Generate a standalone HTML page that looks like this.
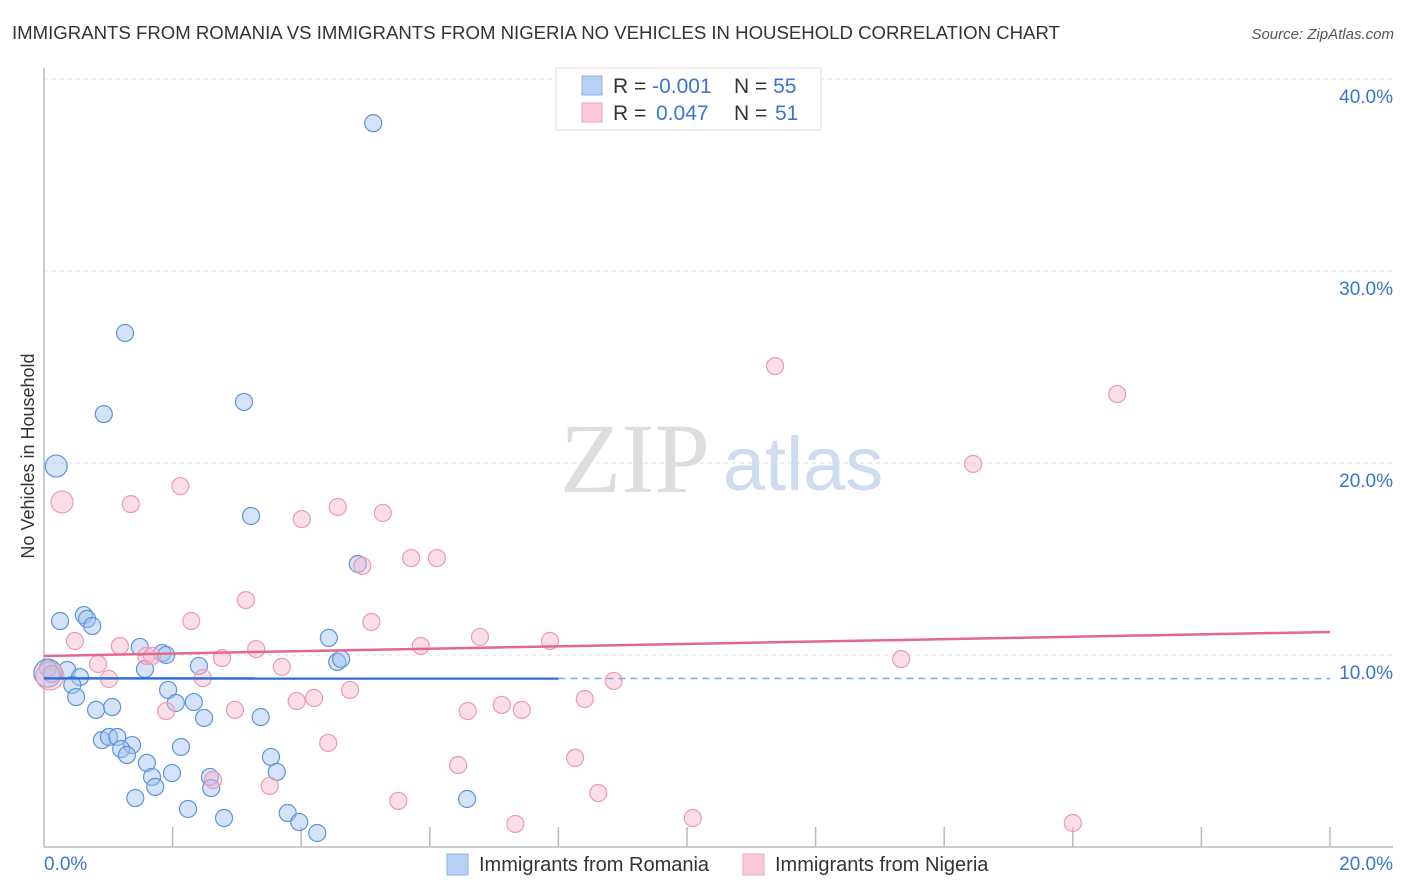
<!DOCTYPE html>
<html><head><meta charset="utf-8"><style>
body{margin:0;background:#fff;font-family:"Liberation Sans",sans-serif;}
#c{position:absolute;left:0;top:0;width:1406px;height:892px;}
</style></head><body>
<svg id="c" width="1406" height="892">
<text x="12" y="39" font-size="18.6" fill="#333">IMMIGRANTS FROM ROMANIA VS IMMIGRANTS FROM NIGERIA NO VEHICLES IN HOUSEHOLD CORRELATION CHART</text>
<text x="1394" y="39" font-size="15" fill="#555" font-style="italic" text-anchor="end">Source: ZipAtlas.com</text>
<text x="34" y="456" font-size="18" fill="#333" text-anchor="middle" transform="rotate(-90 34 456)">No Vehicles in Household</text>
<g><text x="635" y="492" font-size="100" fill="#ddd" font-family="Liberation Serif,serif" text-anchor="middle">ZIP</text><text x="803" y="490" font-size="76" fill="#cfdcef" text-anchor="middle">atlas</text></g>
<g id="grid"></g><g id="pts"></g><g id="trend"></g>
<g>
<rect x="556" y="68" width="265" height="62" fill="#fff" stroke="#ddd"/>
<rect x="582" y="76" width="20" height="19" fill="#b7d0f3" stroke="#8fb2e6"/>
<rect x="582" y="103" width="20" height="19" fill="#fbc9d8" stroke="#f0a6bd"/>
<text x="613" y="93" font-size="21" fill="#333">R = <tspan fill="#3b74d1">-0.001</tspan><tspan x="734">N = </tspan><tspan fill="#3b74d1">55</tspan></text>
<text x="613" y="120" font-size="21" fill="#333">R = <tspan x="656" fill="#3b74d1">0.047</tspan><tspan x="734">N = </tspan><tspan x="775" fill="#3b74d1">51</tspan></text>
</g>
<g>
<rect x="447" y="854" width="21" height="21" fill="#b7d0f3" stroke="#8fb2e6"/>
<text x="479" y="871" font-size="20" fill="#333">Immigrants from Romania</text>
<rect x="743" y="854" width="21" height="21" fill="#fbc9d8" stroke="#f0a6bd"/>
<text x="775" y="871" font-size="20" fill="#333">Immigrants from Nigeria</text>
</g>
</svg>
<script>
const yTicks=[10,20,30,40];
const yTickLabels=["10.0%","20.0%","30.0%","40.0%"];
const xTickLabels=["0.0%","20.0%"];
const romX=[5.12,1.26,0.93,3.11,0.19,3.22,4.88,0.62,0.25,0.67,0.75,1.49,1.84,1.90,4.43,4.56,4.62,2.41,1.57,0.06,0.12,0.36,0.56,0.44,0.50,1.93,2.05,2.33,0.81,1.06,2.49,3.37,0.90,1.01,1.14,1.37,1.20,1.29,2.13,1.60,1.68,1.99,2.58,1.73,2.60,3.53,3.62,1.42,2.24,2.80,3.79,3.97,4.25,6.58,0.06];
const romY=[37.7,26.77,22.55,23.18,19.84,17.24,14.74,12.08,11.77,11.88,11.51,10.42,10.10,10.0,10.89,9.64,9.79,9.43,9.27,9.32,9.01,9.22,8.85,8.44,7.81,8.18,7.5,7.55,7.14,7.29,6.72,6.77,5.57,5.73,5.73,5.31,5.10,4.79,5.21,4.38,3.65,3.85,3.65,3.13,3.07,4.69,3.91,2.55,1.98,1.51,1.77,1.30,0.73,2.50,9.06];
const romBig=[4,54];
const nigX=[11.37,16.69,14.45,0.28,1.35,2.12,4.01,4.57,5.27,4.95,5.71,6.11,3.14,2.29,5.09,0.48,1.18,1.59,3.30,6.78,7.87,5.86,0.84,1.01,3.70,2.77,2.47,13.33,4.76,3.93,4.20,1.90,2.97,6.59,7.12,7.43,8.41,8.86,4.42,6.44,8.26,2.63,3.51,5.51,8.62,7.33,10.09,16.0,0.09,1.68];
const nigY=[25.05,23.59,19.95,17.97,17.86,18.80,17.08,17.71,17.40,14.64,15.05,15.05,12.86,11.77,11.72,10.73,10.47,9.95,10.31,10.94,10.73,10.47,9.53,8.75,9.38,9.84,8.80,9.79,8.18,7.60,7.76,7.08,7.14,7.08,7.40,7.14,7.71,8.65,5.42,4.27,4.64,3.49,3.18,2.40,2.81,1.20,1.51,1.25,8.91,9.95];
const nigBig=[3,48];
const romTrend=[8.78,8.77];
const nigTrend=[9.95,11.2];
const X0=44,X1=1330,Yb=847,pxPerPct=19.2;
const sx=v=>X0+(X1-X0)*v/20, sy=v=>Yb-v*pxPerPct;
const NS="http://www.w3.org/2000/svg";
function mk(t,a,p){const e=document.createElementNS(NS,t);for(const k in a)e.setAttribute(k,a[k]);p.appendChild(e);return e;}
const g=document.getElementById('grid');
yTicks.forEach((v,i)=>{
 const l=mk('line',{x1:X0,x2:1393,y1:sy(v),y2:sy(v),stroke:'#ddd','stroke-dasharray':'4,4'},g);
 
 
 const t=mk('text',{x:1393,y:sy(v)+24,'font-size':19,fill:'#3b74d1','text-anchor':'end'},g);t.textContent=yTickLabels[i];
 
 
});
const ax=mk('line',{x1:X0,x2:X0,y1:68,y2:Yb,stroke:'#bbb','stroke-width':1.5},g);


const bx=mk('line',{x1:X0,x2:1393,y1:Yb,y2:Yb,stroke:'#bbb','stroke-width':1.5},g);


for(let i=1;i<=10;i++){const x=sx(i*2);const tk=mk('line',{x1:x,x2:x,y1:827,y2:Yb,stroke:'#bbb','stroke-width':1.5},g);
 
 }
[[0,'start',44],[20,'end',1393]].forEach((d,i)=>{const t=mk('text',{x:d[2],y:870,'font-size':19,fill:'#3b74d1','text-anchor':d[1]},g);t.textContent=xTickLabels[i];
 
 });
const p=document.getElementById('pts');
function series(xs,ys,big,fill,stroke,name){xs.forEach((x,i)=>{const c=mk('circle',{cx:sx(x),cy:sy(ys[i]),r:big.includes(i)?(i===big[0]?11:14):8.5,fill:fill,stroke:stroke,'stroke-width':1.2},p);
 
 });}
series(romX,romY,romBig,'rgba(160,194,240,0.45)','#5f93dc','romania-point');
series(nigX,nigY,nigBig,'rgba(248,182,202,0.45)','#ec9ab4','nigeria-point');
const tr=document.getElementById('trend');
const a=mk('line',{x1:sx(0),y1:sy(romTrend[0]),x2:sx(8),y2:sy(romTrend[0]+(romTrend[1]-romTrend[0])*0.4),stroke:'#2f6fd6','stroke-width':2.5},tr);


const b=mk('line',{x1:sx(8),y1:sy(romTrend[0]+(romTrend[1]-romTrend[0])*0.4),x2:sx(20),y2:sy(romTrend[1]),stroke:'#7fa6df','stroke-width':1.5,'stroke-dasharray':'7,5'},tr);


const c=mk('line',{x1:sx(0),y1:sy(nigTrend[0]),x2:sx(20),y2:sy(nigTrend[1]),stroke:'#e5678f','stroke-width':2.5},tr);


</script>
</body></html>
